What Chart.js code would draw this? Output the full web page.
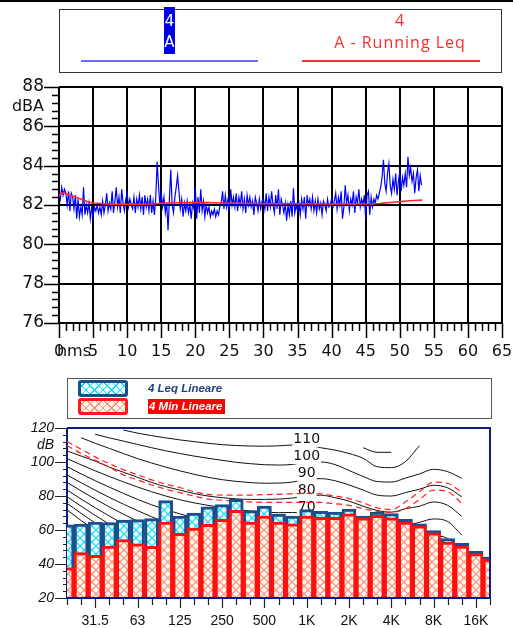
<!DOCTYPE html>
<html>
<head>
<meta charset="utf-8">
<script src="https://cdn.jsdelivr.net/npm/chart.js@4.4.1/dist/chart.umd.min.js"></script>
<style>
  html, body { margin: 0; padding: 0; background: #fff; }
  body { width: 513px; height: 628px; position: relative; overflow: hidden; font-family: "DejaVu Sans", sans-serif; }
  .abs { position: absolute; box-sizing: border-box; }
  canvas { position: absolute; left: 0; }
  #topChart { top: 0; }
  #bandChart { top: 370px; }
  #topRule { left: 0; top: 0; width: 513px; height: 2px; background: #000; }
  #legTop { left: 59px; top: 9px; width: 443px; height: 64px; border: 1.5px solid #333; }
  #tagA { left: 164px; top: 7px; width: 11px; height: 47px; background: #0000e6; color: #fff;
          font: 15px "DejaVu Sans"; line-height: 21px; padding-top: 4px; text-align: center; }
  .redTxt { left: 300px; width: 200px; text-align: center; color: #ff2a2a; font: 16px "Open Sans"; letter-spacing: 1px; line-height: 21px; }
  #lnBlue { left: 81px; top: 60px; width: 177px; height: 2px; background: #6b6bff; }
  #lnRed { left: 302px; top: 60px; width: 178px; height: 2px; background: #ff3030; }
  #legBot { left: 67px; top: 378px; width: 425px; height: 41px; border: 1.5px solid #555; }
  .sw { left: 78px; width: 50px; height: 17px; border-radius: 3px; }
  #swLeq { top: 380px; border: 3px solid #1c4e8a; background-color: #e4fcff;
           background-image: repeating-linear-gradient(45deg, #19d9ef 0 1px, transparent 1px 6px),
                             repeating-linear-gradient(-45deg, #19d9ef 0 1px, transparent 1px 6px); }
  #swMin { top: 398px; border: 3px solid #ff1a1a; background-color: #fff4ef;
           background-image: repeating-linear-gradient(45deg, #f4956e 0 1px, transparent 1px 6px),
                             repeating-linear-gradient(-45deg, #f4956e 0 1px, transparent 1px 6px); }
  .legTxt { left: 148px; font: italic bold 11.5px "Liberation Sans"; line-height: 15px; white-space: nowrap; }
  #txtLeq { top: 381px; color: #1f3f7f; }
  #txtMin { top: 399px; color: #fff; background: #ff0000; padding: 0 2px 0 1px; }
</style>
</head>
<body>
<canvas id="topChart" width="513" height="370"></canvas>
<canvas id="bandChart" width="513" height="258"></canvas>

<div class="abs" id="topRule"></div>
<div class="abs" id="legTop"></div>
<div class="abs" id="tagA">4<br>A</div>
<div class="abs redTxt" style="top:10px">4</div>
<div class="abs redTxt" style="top:32px">A - Running Leq</div>
<div class="abs" id="lnBlue"></div>
<div class="abs" id="lnRed"></div>

<div class="abs" id="legBot"></div>
<div class="abs sw" id="swLeq"></div>
<div class="abs legTxt" id="txtLeq">4 Leq Lineare</div>
<div class="abs sw" id="swMin"></div>
<div class="abs legTxt" id="txtMin">4 Min Lineare</div>

<script>
// ---------- time history (top) ----------
const SAMPLE_STEP = 0.2; // s between level samples
const LEVEL_A = [
  82.7, 82.3, 82.9, 82.5, 82.8,  82.6, 82.0, 82.7, 81.7, 82.6,
  82.4, 81.8, 82.5, 81.3, 82.3,  81.4, 81.9, 81.5, 82.9, 81.5,
  82.0, 81.6, 82.1, 81.3, 81.9,  81.4, 81.9, 81.7, 82.0, 81.6,
  81.9, 81.5, 82.2, 81.6, 82.0,  82.6, 81.7, 82.1, 81.8, 82.7,
  81.6, 82.2, 82.9, 81.9, 82.4,  81.6, 82.8, 82.1, 81.7, 82.3,
  82.6, 81.9, 82.3, 82.0, 81.8,  82.4, 81.6, 82.3, 81.9, 82.5,
  81.8, 82.4, 81.5, 82.5, 81.9,  82.3, 81.7, 82.5, 81.6, 82.2,
  81.5, 82.4, 84.2, 83.0, 82.0,  82.6, 81.9, 82.4, 81.6, 82.1,
  80.7, 82.3, 83.8, 82.0, 81.6,  82.4, 82.9, 83.5, 82.7, 81.8,
  82.3, 81.4, 82.1, 81.7, 82.2,  81.6, 82.0, 81.3, 82.1, 81.8,
  82.9, 81.3, 82.4, 81.6, 82.8,  81.7, 82.2, 81.4, 82.0, 81.6,
  81.9, 81.4, 81.7, 81.5, 81.8,  81.4, 81.7, 81.5, 81.9, 82.1,
  82.7, 81.8, 82.5, 81.9, 82.3,  81.7, 82.8, 82.0, 82.4, 81.9,
  82.6, 81.7, 82.4, 82.0, 82.7,  81.8, 82.3, 81.6, 82.5, 82.0,
  82.4, 81.9, 82.2, 81.5, 82.4,  82.1, 81.7, 82.3, 81.8, 82.2,
  82.3, 81.8, 82.6, 81.7, 82.4,  81.9, 82.7, 82.0, 81.6, 82.5,
  81.8, 82.8, 81.5, 82.3, 82.0,  81.6, 82.1, 81.2, 82.0, 81.5,
  82.2, 81.4, 82.85, 81.6, 82.0, 81.7, 82.1, 81.5, 82.3, 81.8,
  82.4, 81.3, 82.5, 82.0, 82.3,  81.8, 82.4, 81.7, 82.2, 81.6,
  82.3, 81.8, 82.1, 81.5, 82.2,  82.0, 81.7, 82.3, 81.9, 82.0,
  82.3, 81.9, 82.2, 82.6, 81.8,  82.4, 82.0, 82.7, 81.3, 81.9,
  83.0, 82.1, 82.5, 81.7, 82.3,  82.0, 82.7, 81.6, 82.4, 82.1,
  82.8, 81.9, 82.3, 82.0, 82.5,  81.3, 82.5, 82.7, 81.5, 82.4,
  81.9, 82.3, 82.1, 82.5, 82.3,  82.6, 82.9, 83.4, 84.3, 83.1,
  82.7, 83.6, 84.1, 83.0, 82.6,  83.3, 82.8, 83.6, 82.5, 83.2,
  83.7, 82.7, 83.4, 83.0, 83.6,  82.9, 84.45, 83.5, 83.9, 83.2,
  83.6, 82.6, 83.4, 83.8, 82.7,  83.5, 83.0
];
const RUN_TIMES = [0, 0.4, 1.0, 1.6, 2.3, 3.0, 3.6, 4.3, 5.2, 6.5, 8, 10, 12, 14, 15, 16, 18, 20, 22, 24,
                   26, 28, 30, 35, 40, 44, 46, 47, 48, 49, 50, 51, 52, 53.3];
const RUN_LEQ = [82.45, 82.62, 82.58, 82.5, 82.42, 82.33, 82.25, 82.15, 82.1, 82.06, 82.04, 82.03, 82.04, 82.06,
                 82.09, 82.1, 82.12, 82.13, 82.12, 82.1, 82.09, 82.08, 82.07, 82.06, 82.05, 82.05, 82.06, 82.08,
                 82.11, 82.14, 82.17, 82.2, 82.23, 82.25];
const TOP_Y_LABELS = [76, 78, 80, 82, 84, 86, 88];
const TOP_X_LABELS = [0, 5, 10, 15, 20, 25, 30, 35, 40, 45, 50, 55, 60, 65];

// ---------- third-octave spectrum (bottom) ----------
const _ = null;
const BANDS = ['20', '25', '31.5', '40', '50', '63', '80', '100', '125', '160', '200', '250', '315', '400', '500',
               '630', '800', '1K', '1.25K', '1.6K', '2K', '2.5K', '3.15K', '4K', '5K', '6.3K', '8K', '10K',
               '12.5K', '16K', '20K'];
const SHOWN_BANDS = ['31.5', '63', '125', '250', '500', '1K', '2K', '4K', '8K', '16K'];
const LEQ_LIN = [63.1, 63.5, 64.7, 64.3, 65.9, 66.1, 66.7, 77.3, 68.2, 70.0, 73.7, 74.9, 78.0, 71.4, 74.1, 69.4,
                 68.2, 72.0, 71.0, 70.6, 72.3, 68.2, 70.6, 69.6, 66.3, 63.7, 59.6, 54.9, 52.2, 47.5, 44.1];
const MIN_LIN = [37.8, 46.7, 45.1, 50.6, 54.3, 51.8, 50.4, 64.7, 58.0, 61.2, 63.3, 66.3, 71.6, 64.7, 68.2, 64.7,
                 63.7, 68.2, 67.5, 67.5, 69.5, 67.1, 68.6, 67.1, 64.7, 62.4, 58.4, 52.9, 50.6, 46.1, 42.8];
const BOT_Y_LABELS = [20, 40, 60, 80, 100, 120];

// equal loudness contours
const ISO_120 = [_, _, _, _, _, _, _, _, _, _, _, _, _, _, _, _, _, _, _, _, _, 108.4, 105.7, 105.7, _, _, _, _, _, _, _];
const ISO_110 = [_, _, _, _, 118.8, 117.0, 115.5, 114.2, 113.0, 112.0, 111.0, 110.2, 109.7, 109.4, 109.3, 109.5,
                 110.0, 110.0, 108.4, 107.0, 105.0, 102.2, 97.2, 96.7, 100.2, 109.6, _, _, _, _, _];
const ISO_100 = [_, _, 116.3, 114.2, 112.3, 110.3, 108.4, 106.6, 105.0, 103.5, 102.2, 101.0, 99.8, 99.0, 98.4, 98.2,
                 98.6, 100.0, 100.0, 98.5, 95.0, 91.5, 88.5, 88.2, 90.5, 93.0, 95.7, 94.3, 90.4, _, _];
const ISO_90 = [_, 114.3, 111.0, 108.0, 105.0, 102.0, 99.4, 97.0, 94.8, 92.8, 91.0, 89.6, 88.6, 87.9, 87.5, 87.6,
                88.2, 90.0, 90.2, 89.0, 86.5, 83.5, 80.5, 80.0, 82.0, 84.0, 86.3, 84.8, 79.5, _, _];
const ISO_80 = [106.5, 103.5, 100.5, 97.0, 94.0, 91.0, 88.0, 85.5, 83.5, 81.5, 80.0, 79.0, 78.3, 78.0, 78.0, 78.2,
                78.8, 80.0, 80.5, 79.0, 77.0, 74.0, 71.5, 70.5, 72.5, 74.0, 76.5, 74.5, 68.0, _, _];
const ISO_70 = [102.0, 98.3, 94.8, 91.5, 88.3, 85.3, 82.5, 80.0, 77.8, 76.0, 74.5, 73.2, 72.0, 71.2, 70.6, 70.2,
                70.3, 70.0, 70.8, 69.5, 67.5, 64.5, 62.0, 61.0, 62.5, 64.5, 66.5, 65.0, 57.0, _, _];
const ISO_60 = [97.3, 93.0, 89.0, 85.2, 81.5, 78.0, 74.8, 72.0, 69.5, 67.3, 65.4, 63.8, 62.5, 61.5, 60.7, 60.2,
                60.2, 60.0, 60.8, 59.5, 57.5, 54.5, 52.0, 51.0, 52.5, 54.5, 56.5, 55.0, 47.0, _, _];
const ISO_50 = [92.4, 87.8, 83.4, 79.2, 75.2, 71.4, 67.8, 64.6, 61.8, 59.3, 57.2, 55.4, 53.8, 52.5, 51.4, 50.6,
                50.3, 50.0, 50.8, 49.5, 47.5, 44.5, 42.0, 41.0, 42.5, 44.5, 46.5, 45.0, 37.0, _, _];
const ISO_40 = [88.0, 83.0, 78.2, 73.6, 69.3, 65.2, 61.4, 58.0, 55.0, 52.3, 49.8, 47.6, 45.6, 44.0, 42.6, 41.4,
                40.7, 40.0, 40.8, 39.5, 37.5, 34.5, 32.0, 31.0, 32.5, 34.5, 36.5, 35.0, 27.0, _, _];
const ISO_30 = [83.5, 78.2, 73.1, 68.2, 63.6, 59.2, 55.1, 51.4, 48.0, 45.0, 42.2, 39.7, 37.4, 35.5, 33.8, 32.4,
                31.2, 30.0, 30.8, 29.5, 27.5, 24.5, 22.0, 21.0, 22.5, 24.5, 26.5, 25.0, 17.0, _, _];
const ISO_20 = [79.6, 74.0, 68.6, 63.4, 58.5, 53.8, 49.5, 45.5, 41.8, 38.5, 35.4, 32.6, 30.0, 27.8, 25.8, 24.0,
                22.4, 20.0, _, _, _, _, _, _, _, _, _, _, _, _, _];
const ISO_10 = [75.7, 69.8, 64.1, 58.6, 53.4, 48.4, 43.8, 39.5, 35.5, 31.9, 28.5, 25.5, 22.7, 20.2, 18.0, _,
                _, _, _, _, _, _, _, _, _, _, _, _, _, _, _];
const ISO_0 = [71.8, 65.6, 59.6, 53.8, 48.3, 43.1, 38.2, 33.6, 29.4, 25.5, 21.9, 18.6, _, _, _, _,
               _, _, _, _, _, _, _, _, _, _, _, _, _, _, _];
const CONTOUR_TAGS = [110, 100, 90, 80, 70];
// red dashed risk curves
const RISK_HI = [112.0, 107.5, 103.0, 99.0, 95.5, 92.5, 89.5, 87.0, 85.0, 82.5, 81.0, 80.5, 80.5, 80.5, 80.8, 81.0,
                 81.3, 81.6, 81.2, 80.0, 78.5, 76.0, 73.0, 72.0, 76.5, 82.5, 88.2, 87.5, 82.0, _, _];
const RISK_LO = [109.6, 105.0, 101.0, 97.0, 92.4, 89.5, 86.5, 84.0, 82.0, 80.0, 78.2, 77.5, 77.0, 76.5, 76.3, 76.3,
                 76.3, 76.3, 76.2, 75.5, 74.5, 72.5, 71.0, 70.4, 72.5, 78.0, 83.5, 82.5, 75.7, _, _];

const NAVY = '#0c1a84';

/**
 * Top chart: tick marks and labels drawn from the scales
 */
const topAxes = {
    id: 'topAxes',
    afterDraw(chart) {
        const { ctx, chartArea: a, scales: { x, y } } = chart;
        ctx.save();
        ctx.strokeStyle = '#000';
        ctx.lineWidth = 1.5;
        ctx.beginPath();
        for (let k = 0; k <= 30; k++) {
            const py = Math.round(y.getPixelForValue(76 + k * 0.4)) + 0.5;
            const len = k % 5 === 0 ? 15 : 7;
            ctx.moveTo(a.left - len, py);
            ctx.lineTo(a.left, py);
        }
        for (let t = 0; t <= 65; t++) {
            const px = Math.round(x.getPixelForValue(t)) + 0.5;
            const len = t % 5 === 0 ? 15 : 8;
            ctx.moveTo(px, a.bottom);
            ctx.lineTo(px, a.bottom + len);
        }
        ctx.stroke();

        ctx.fillStyle = '#111';
        ctx.textBaseline = 'middle';
        ctx.font = '17px "DejaVu Sans"';
        ctx.textAlign = 'right';
        TOP_Y_LABELS.forEach(v => ctx.fillText(String(v), 44, y.getPixelForValue(v)));
        ctx.font = '16px "DejaVu Sans"';
        ctx.fillText('dBA', 44, 107);
        ctx.textAlign = 'center';
        TOP_X_LABELS.forEach(v => ctx.fillText(String(v), x.getPixelForValue(v), 352));
        ctx.fillText('hms', 74, 352);
        ctx.restore();
    }
};

const topChart = new Chart(document.getElementById('topChart'), {
    type: 'line',
    data: {
        datasets: [{
            label: 'A - Running Leq',
            data: RUN_TIMES.map((t, i) => ({ x: t, y: RUN_LEQ[i] })),
            borderColor: '#ff2a2a',
            borderWidth: 1.6,
            pointRadius: 0,
        }, {
            label: 'A',
            data: LEVEL_A.map((v, i) => ({ x: i * SAMPLE_STEP, y: v })),
            borderColor: '#0000ff',
            borderWidth: 1.2,
            pointRadius: 0,
        }]
    },
    options: {
        responsive: false,
        animation: false,
        layout: { padding: { left: 59, right: 11, top: 87, bottom: 47 } },
        plugins: { legend: { display: false }, tooltip: { enabled: false } },
        scales: {
            x: {
                type: 'linear', min: 0, max: 65,
                ticks: { display: false, stepSize: 5 },
                grid: { color: '#000', lineWidth: 2, drawTicks: false },
                border: { display: false }
            },
            y: {
                min: 76, max: 88,
                ticks: { display: false, stepSize: 2 },
                grid: { color: '#000', lineWidth: 2, drawTicks: false },
                border: { display: false }
            }
        }
    },
    plugins: [topAxes]
});

/**
 * Bottom chart helpers
 */
const bandCanvas = document.getElementById('bandChart');

function makeHatch(bg, fg) {
    const tile = document.createElement('canvas');
    tile.width = 8;
    tile.height = 8;
    const g = tile.getContext('2d');
    g.fillStyle = bg;
    g.fillRect(0, 0, 8, 8);
    g.strokeStyle = fg;
    g.lineWidth = 1.2;
    g.beginPath();
    g.moveTo(0, 0); g.lineTo(8, 8);
    g.moveTo(8, 0); g.lineTo(0, 8);
    g.stroke();
    return bandCanvas.getContext('2d').createPattern(tile, 'repeat');
}

function drawTags(chart) {
    const { ctx, scales: { x, y } } = chart;
    const px = x.getPixelForValue(BANDS.indexOf('1K'));
    ctx.save();
    ctx.font = '14px "DejaVu Sans"';
    ctx.textAlign = 'center';
    ctx.textBaseline = 'middle';
    CONTOUR_TAGS.forEach(tag => {
        const py = y.getPixelForValue(tag + 3.2);
        const w = ctx.measureText(String(tag)).width;
        ctx.fillStyle = '#fff';
        ctx.fillRect(px - w / 2 - 1, py - 7.5, w + 2, 15);
        ctx.fillStyle = '#111';
        ctx.fillText(String(tag), px, py);
    });
    ctx.restore();
}

const bandFrame = {
    id: 'bandFrame',
    beforeDatasetsDraw(chart) {
        const { ctx, chartArea: a } = chart;
        ctx.save();
        ctx.strokeStyle = NAVY;
        ctx.lineWidth = 2;
        ctx.beginPath();
        ctx.moveTo(a.left, a.top);
        ctx.lineTo(a.left, a.bottom);
        ctx.stroke();
        ctx.restore();
        chart.$tagsDone = false;
    },
    beforeDatasetDraw(chart, args) {
        const ds = chart.data.datasets[args.index];
        if (chart.$tagsDone || ds.order !== 3) return;
        chart.$tagsDone = true;
        drawTags(chart);
    },
    afterDatasetsDraw(chart) {
        const { ctx, chartArea: a, scales: { x, y } } = chart;
        ctx.save();
        ctx.strokeStyle = NAVY;
        ctx.lineWidth = 2;
        ctx.beginPath();
        ctx.moveTo(a.left, a.top);
        ctx.lineTo(a.right, a.top);
        ctx.lineTo(a.right, a.bottom);
        ctx.lineTo(a.left, a.bottom);
        ctx.stroke();

        // y ticks every 4 dB, longer at labels
        ctx.strokeStyle = '#222';
        ctx.lineWidth = 1.2;
        ctx.beginPath();
        for (let k = 0; k <= 25; k++) {
            const v = 20 + k * 4;
            const py = Math.round(y.getPixelForValue(v)) + 0.5;
            const len = (v - 20) % 20 === 0 ? 12 : 4;
            ctx.moveTo(a.left - len, py);
            ctx.lineTo(a.left, py);
        }
        BANDS.forEach((b, i) => {
            const px = Math.round(x.getPixelForValue(i)) + 0.5;
            const len = SHOWN_BANDS.includes(b) ? 9 : 6;
            ctx.moveTo(px, a.bottom + 1);
            ctx.lineTo(px, a.bottom + 1 + len);
        });
        ctx.stroke();

        ctx.fillStyle = '#111';
        ctx.textBaseline = 'middle';
        ctx.textAlign = 'right';
        ctx.font = 'italic 14px "Liberation Sans"';
        BOT_Y_LABELS.forEach(v => ctx.fillText(String(v), 54, y.getPixelForValue(v)));
        ctx.fillText('dB', 54, y.getPixelForValue(110));
        ctx.textAlign = 'center';
        ctx.font = '14px "Liberation Sans"';
        BANDS.forEach((b, i) => {
            if (SHOWN_BANDS.includes(b)) ctx.fillText(b, x.getPixelForValue(i), a.bottom + 23);
        });
        ctx.restore();
    }
};

const contour = (values) => ({
    type: 'line',
    data: values,
    order: 4,
    borderColor: '#111',
    borderWidth: 1,
    pointRadius: 0,
    cubicInterpolationMode: 'monotone',
    spanGaps: false,
    clip: 0,
});

const riskCurve = (label, values) => ({
    type: 'line',
    label: label,
    data: values,
    order: 3,
    borderColor: '#ff2020',
    borderWidth: 1.2,
    borderDash: [6, 4],
    pointRadius: 0,
    cubicInterpolationMode: 'monotone',
    clip: 0,
});

const bandChart = new Chart(bandCanvas, {
    type: 'bar',
    data: {
        labels: BANDS,
        datasets: [{
            label: '4 Min Lineare',
            data: MIN_LIN,
            order: 1,
            base: 20,
            backgroundColor: makeHatch('#fff3ee', '#f4956e'),
            borderColor: '#ff1010',
            borderWidth: 3,
            grouped: false,
            barPercentage: 1,
            categoryPercentage: 1,
            clip: 0,
        }, {
            label: '4 Leq Lineare',
            data: LEQ_LIN,
            order: 2,
            base: 20,
            backgroundColor: makeHatch('#e4fcff', '#19d9ef'),
            borderColor: '#1c4e8a',
            borderWidth: 3,
            grouped: false,
            barPercentage: 1,
            categoryPercentage: 1,
            clip: 0,
        },
        riskCurve('risk high', RISK_HI),
        riskCurve('risk low', RISK_LO),
        contour(ISO_120), contour(ISO_110), contour(ISO_100), contour(ISO_90), contour(ISO_80),
        contour(ISO_70), contour(ISO_60), contour(ISO_50), contour(ISO_40), contour(ISO_30),
        contour(ISO_20), contour(ISO_10), contour(ISO_0)]
    },
    options: {
        responsive: false,
        animation: false,
        layout: { padding: { left: 67, right: 23, top: 58, bottom: 30 } },
        plugins: { legend: { display: false }, tooltip: { enabled: false } },
        scales: {
            x: {
                type: 'category',
                offset: false,
                ticks: { display: false },
                grid: { display: false, drawTicks: false },
                border: { display: false }
            },
            y: {
                min: 20, max: 120,
                ticks: { display: false },
                grid: { display: false, drawTicks: false },
                border: { display: false }
            }
        }
    },
    plugins: [bandFrame]
});
</script>
</body>
</html>
